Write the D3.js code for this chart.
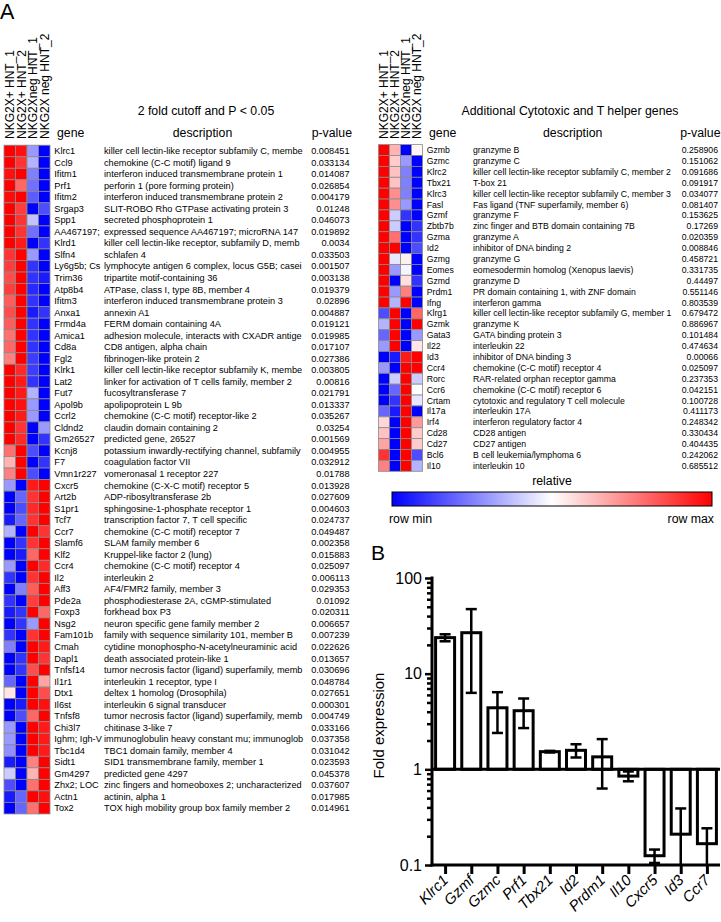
<!DOCTYPE html>
<html><head><meta charset="utf-8">
<script src="https://cdn.jsdelivr.net/npm/d3@7"></script>
<style>
body{margin:0;background:#fff}
svg{display:block}
text{font-family:"Liberation Sans",Arial,sans-serif;fill:#000}
</style>
</head><body>
<svg id="c" width="721" height="922"></svg>
<script>
const sampleLabels = ["NKG2X+ HNT_1","NKG2X+ HNT_2","NKG2Xneg HNT_1","NKG2X neg HNT_2"];

const leftGenes = ["Klrc1","Ccl9","Ifitm1","Prf1","Ifitm2","Srgap3","Spp1","AA467197; Nmes1","Klrd1","Slfn4","Ly6g5b; Csnk2b","Trim36","Atp8b4","Ifitm3","Anxa1","Frmd4a","Amica1","Cd8a","Fgl2","Klrk1","Lat2","Fut7","Apol9b","Ccrl2","Cldnd2","Gm26527","Kcnj8","F7","Vmn1r227","Cxcr5","Art2b","S1pr1","Tcf7","Ccr7","Slamf6","Klf2","Ccr4","Il2","Aff3","Pde2a","Foxp3","Nsg2","Fam101b","Cmah","Dapl1","Tnfsf14","Il1r1","Dtx1","Il6st","Tnfsf8","Chi3l7","Ighm; Igh-VJ558","Tbc1d4","Sidt1","Gm4297","Zhx2; LOC100","Actn1","Tox2"];
const leftDesc = ["killer cell lectin-like receptor subfamily C, member 1","chemokine (C-C motif) ligand 9","interferon induced transmembrane protein 1","perforin 1 (pore forming protein)","interferon induced transmembrane protein 2","SLIT-ROBO Rho GTPase activating protein 3","secreted phosphoprotein 1","expressed sequence AA467197; microRNA 147","killer cell lectin-like receptor, subfamily D, member 1","schlafen 4","lymphocyte antigen 6 complex, locus G5B; casein kinase 2","tripartite motif-containing 36","ATPase, class I, type 8B, member 4","interferon induced transmembrane protein 3","annexin A1","FERM domain containing 4A","adhesion molecule, interacts with CXADR antigen 1","CD8 antigen, alpha chain","fibrinogen-like protein 2","killer cell lectin-like receptor subfamily K, member 1","linker for activation of T cells family, member 2","fucosyltransferase 7","apolipoprotein L 9b","chemokine (C-C motif) receptor-like 2","claudin domain containing 2","predicted gene, 26527","potassium inwardly-rectifying channel, subfamily J, member 8","coagulation factor VII","vomeronasal 1 receptor 227","chemokine (C-X-C motif) receptor 5","ADP-ribosyltransferase 2b","sphingosine-1-phosphate receptor 1","transcription factor 7, T cell specific","chemokine (C-C motif) receptor 7","SLAM family member 6","Kruppel-like factor 2 (lung)","chemokine (C-C motif) receptor 4","interleukin 2","AF4/FMR2 family, member 3","phosphodiesterase 2A, cGMP-stimulated","forkhead box P3","neuron specific gene family member 2","family with sequence similarity 101, member B","cytidine monophospho-N-acetylneuraminic acid hydroxylase","death associated protein-like 1","tumor necrosis factor (ligand) superfamily, member 14","interleukin 1 receptor, type I","deltex 1 homolog (Drosophila)","interleukin 6 signal transducer","tumor necrosis factor (ligand) superfamily, member 8","chitinase 3-like 7","immunoglobulin heavy constant mu; immunoglobulin heavy variable","TBC1 domain family, member 4","SID1 transmembrane family, member 1","predicted gene 4297","zinc fingers and homeoboxes 2; uncharacterized LOC100","actinin, alpha 1","TOX high mobility group box family member 2"];
const leftP = ["0.008451","0.033134","0.014087","0.026854","0.004179","0.01248","0.046073","0.019892","0.0034","0.033503","0.001507","0.003138","0.019379","0.02896","0.004887","0.019121","0.019985","0.017107","0.027386","0.003805","0.00816","0.021791","0.013337","0.035267","0.03254","0.001569","0.004955","0.032912","0.01788","0.013928","0.027609","0.004603","0.024737","0.049487","0.002358","0.015883","0.025097","0.006113","0.029353","0.01092","0.020311","0.006657","0.007239","0.022626","0.013657","0.030696","0.048784","0.027651","0.000301","0.004749","0.033166","0.037358","0.031042","0.023593","0.045378","0.037607","0.017985","0.014961"];
const leftValues = [
[1,0.97,0.3,0],[1,0.9,0.35,0],[0.97,1,0.25,0],[1,0.8,0.22,0],[0.98,1,0.18,0],[1,0.88,0,0.15],[1,0.9,0.38,0],[1,0.9,0.22,0],[1,0.95,0,0.1],[0.9,1,0.3,0],
[0.88,1,0.1,0],[0.85,1,0.1,0.05],[0.88,1,0.08,0],[0.82,1,0.1,0],[0.85,1,0.05,0.1],[0.82,1,0.1,0],[0.78,1,0.1,0],[0.8,1,0.1,0],[0.75,1,0.12,0],[1,0.92,0.12,0],
[1,0.95,0.1,0],[1,0.95,0.35,0],[1,0.97,0.3,0],[1,0.95,0.3,0],[1,0.9,0,0.3],[1,0.92,0,0.1],[0.78,1,0.15,0],[0.65,1,0,0.1],[0.75,1,0.15,0],[0.3,0,0.95,1],
[0,0.2,0.9,1],[0,0.15,0.92,1],[0.05,0.2,0.9,1],[0.35,0,1,0.9],[0,0.1,0.9,1],[0,0.05,0.8,1],[0.3,0,1,0.92],[0.1,0,0.9,1],[0,0.25,0.82,1],[0.1,0,0.88,1],
[0.05,0.1,1,0.8],[0,0.1,0.3,1],[0.1,0,0.9,1],[0.25,0,1,0.95],[0,0.1,1,0.9],[0,0.1,0.85,1],[0.2,0,1,0.68],[0.55,0,1,0.85],[0,0.05,1,0.97],[0,0.15,0.8,1],
[0.3,0,1,0.95],[0.3,0,1,0.95],[0.28,0,1,0.95],[0.05,0,0.75,1],[0.4,0,0.65,1],[0.15,0,0.78,1],[0.05,0.2,1,0.97],[0,0.2,0.78,1]];

const rightGenes = ["Gzmb","Gzmc","Klrc2","Tbx21","Klrc3","Fasl","Gzmf","Zbtb7b","Gzma","Id2","Gzmg","Eomes","Gzmd","Prdm1","Ifng","Klrg1","Gzmk","Gata3","Il22","Id3","Ccr4","Rorc","Ccr6","Crtam","Il17a","Irf4","Cd28","Cd27","Bcl6","Il10"];
const rightDesc = ["granzyme B","granzyme C","killer cell lectin-like receptor subfamily C, member 2","T-box 21","killer cell lectin-like receptor subfamily C, member 3","Fas ligand (TNF superfamily, member 6)","granzyme F","zinc finger and BTB domain containing 7B","granzyme A","inhibitor of DNA binding 2","granzyme G","eomesodermin homolog (Xenopus laevis)","granzyme D","PR domain containing 1, with ZNF domain","interferon gamma","killer cell lectin-like receptor subfamily G, member 1","granzyme K","GATA binding protein 3","interleukin 22","inhibitor of DNA binding 3","chemokine (C-C motif) receptor 4","RAR-related orphan receptor gamma","chemokine (C-C motif) receptor 6","cytotoxic and regulatory T cell molecule","interleukin 17A","interferon regulatory factor 4","CD28 antigen","CD27 antigen","B cell leukemia/lymphoma 6","interleukin 10"];
const rightP = ["0.258906","0.151062","0.091686","0.091917","0.034077","0.081407","0.153625","0.17269","0.020359","0.008846","0.458721","0.331735","0.44497","0.551146","0.803539","0.679472","0.886967","0.101484","0.474634","0.00066","0.025097","0.237353","0.042151","0.100728","0.411173","0.248342","0.330434","0.404435","0.242062","0.685512"];
const rightValues = [
[1,0.65,0,0.52],[1,0.6,0.3,0],[1,0.62,0.25,0],[1,0.62,0.25,0],[1,0.72,0.25,0],[1,0.72,0.3,0],[1,0.4,0.1,0],[1,0.4,0,0.1],[1,0.78,0,0.1],[1,1,0,0.15],
[1,0.45,0.53,0],[1,0.3,0.48,0],[1,0,0.56,0.1],[1,0.3,0.75,0],[1,0.35,1,0],[0.15,1,0,0.8],[0.35,1,0,1],[0.2,1,0,0.3],[0.3,1,0,0.55],[0,0.05,0.95,1],
[0.3,0,1,1],[0,0.4,1,0.4],[0,0.2,1,0.5],[0,0.1,1,0.45],[0.2,0.05,1,0],[0.58,0,1,0.7],[0.62,0,1,0.6],[0.68,0,1,0.6],[0.9,0,1,0.15],[0.75,0,1,0.35]];

const barGenes = ["Klrc1","Gzmf","Gzmc","Prf1","Tbx21","Id2","Prdm1","Il10","Cxcr5","Id3","Ccr7"];
const barMeans = [23.8,26.8,4.4,4.1,1.53,1.58,1.35,0.85,0.125,0.21,0.167];
const barErrors = [2.0,20.5,2.0,1.4,0.03,0.25,0.72,0.1,0.02,0.18,0.075];
const yMajorTicks = [0.1,1,10,100];
const yTickLabels = ["0.1","1","10","100"];

const svg = d3.select("#c");
const color = d3.scaleLinear().domain([0,0.5,1]).range(["#0000ff","#ffffff","#ff0000"]);

// panel letters
svg.append("text").attr("x",0).attr("y",18.5).attr("font-size",21.5).text("A");
svg.append("text").attr("x",371).attr("y",560).attr("font-size",21).text("B");

function fitText(sel, maxW){
  const node = sel.node();
  let s = node.textContent;
  while(s.length > 1 && node.getComputedTextLength() > maxW){
    s = s.slice(0,-1);
    node.textContent = s;
  }
}

function heatmap(cfg){
  const g = svg.append("g");
  const n = cfg.genes.length;
  const x = d3.scaleBand().domain(d3.range(4)).range([cfg.x0, cfg.x0 + 4*cfg.cw]);
  const y = d3.scaleBand().domain(d3.range(n)).range([cfg.y0, cfg.y0 + n*cfg.ch]);
  sampleLabels.forEach((s,i)=>{
    g.append("text")
      .attr("transform",`translate(${x(i)+x.bandwidth()/2+4.4},139) rotate(-90)`)
      .attr("font-size",12).text(s);
  });
  g.append("text").attr("x",cfg.titleX).attr("y",115).attr("text-anchor","middle").attr("font-size",12.3).text(cfg.title);
  g.append("text").attr("x",cfg.geneHX).attr("y",137).attr("font-size",12.3).text("gene");
  g.append("text").attr("x",cfg.descHX).attr("y",137).attr("text-anchor","middle").attr("font-size",12.3).text("description");
  g.append("text").attr("x",cfg.pHX).attr("y",137).attr("text-anchor","end").attr("font-size",12.3).text("p-value");
  cfg.values.forEach((row,r)=>{
    row.forEach((v,c)=>{
      g.append("rect").attr("x",x(c)).attr("y",y(r)).attr("width",x.bandwidth()).attr("height",y.bandwidth())
        .attr("fill",color(v)).attr("stroke","#8a8a8a").attr("stroke-width",0.8);
    });
  });
  const tg = g.append("g").attr("font-size",cfg.fs);
  cfg.genes.forEach((gn,r)=>{
    const yy = y(r)+y.bandwidth()/2;
    const t1 = tg.append("text").attr("x",cfg.geneX).attr("y",yy).attr("dy","0.35em").text(gn);
    fitText(t1, cfg.geneClip - cfg.geneX);
    const t2 = tg.append("text").attr("x",cfg.descX).attr("y",yy).attr("dy","0.35em").text(cfg.desc[r]);
    fitText(t2, cfg.descClip - cfg.descX);
    tg.append("text").attr("x",cfg.pX).attr("y",yy).attr("dy","0.35em").attr("text-anchor","end").text(cfg.p[r]);
  });
}

heatmap({id:"L",genes:leftGenes,desc:leftDesc,p:leftP,values:leftValues,
  x0:4,cw:11.5,y0:145.2,ch:11.53,fs:9.2,geneX:54.3,geneClip:103.5,descX:104,descClip:304,pX:349.5,
  title:"2 fold cutoff and P < 0.05",titleX:206,geneHX:57,descHX:202.5,pHX:352});
heatmap({id:"R",genes:rightGenes,desc:rightDesc,p:rightP,values:rightValues,
  x0:378.5,cw:11,y0:144.6,ch:10.89,fs:8.7,geneX:426.7,geneClip:472,descX:473,descClip:700,pX:718,
  title:"Additional Cytotoxic and T helper genes",titleX:570,geneHX:429,descHX:572.7,pHX:720.5});

// legend
const grad = svg.append("defs").append("linearGradient").attr("id","lg");
grad.append("stop").attr("offset","0%").attr("stop-color","#0000ff");
grad.append("stop").attr("offset","50%").attr("stop-color","#ffffff");
grad.append("stop").attr("offset","100%").attr("stop-color","#ff0000");
svg.append("text").attr("x",552).attr("y",485).attr("text-anchor","middle").attr("font-size",12.3).text("relative");
svg.append("rect").attr("x",392).attr("y",492).attr("width",320).attr("height",14).attr("fill","url(#lg)").attr("stroke","#000").attr("stroke-width",1);
svg.append("text").attr("x",389).attr("y",523).attr("font-size",12.3).text("row min");
svg.append("text").attr("x",714).attr("y",523).attr("text-anchor","end").attr("font-size",12.3).text("row max");

// bar chart
const bx = d3.scalePoint().domain(barGenes).range([432,720]).padding(0.5);
const by = d3.scaleLog().domain([0.1,100]).range([865,578]);
const bc = svg.append("g");
const bw = 19;
barGenes.forEach((gn,i)=>{
  const v = barMeans[i], cx = bx(gn);
  const y1 = by(1), yv = by(v);
  bc.append("rect").attr("x",cx-bw/2).attr("y",Math.min(y1,yv)).attr("width",bw).attr("height",Math.abs(yv-y1))
    .attr("fill","#fff").attr("stroke","#000").attr("stroke-width",3);
});
barGenes.forEach((gn,i)=>{
  const v = barMeans[i], e = barErrors[i], cx = bx(gn);
  const hi = v+e, loRaw = v-e;
  const lo = Math.max(loRaw,0.1);
  bc.append("line").attr("x1",cx).attr("x2",cx).attr("y1",by(hi)).attr("y2",by(lo)).attr("stroke","#000").attr("stroke-width",2.5);
  bc.append("line").attr("x1",cx-5.5).attr("x2",cx+5.5).attr("y1",by(hi)).attr("y2",by(hi)).attr("stroke","#000").attr("stroke-width",2.5);
  if(loRaw>0.1) bc.append("line").attr("x1",cx-5.5).attr("x2",cx+5.5).attr("y1",by(lo)).attr("y2",by(lo)).attr("stroke","#000").attr("stroke-width",2.5);
});
bc.append("line").attr("x1",432).attr("x2",720).attr("y1",by(1)).attr("y2",by(1)).attr("stroke","#000").attr("stroke-width",3);

const minor = [];
[0.1,1,10].forEach(d=>{for(let k=2;k<=9;k++) minor.push(+(d*k).toPrecision(3));});
const yMinor = bc.append("g").attr("transform","translate(432,0)")
  .call(d3.axisLeft(by).tickValues(minor).tickSize(5).tickFormat(""));
yMinor.select(".domain").remove();
yMinor.selectAll("line").attr("stroke-width",2.5);
const yMaj = bc.append("g").attr("transform","translate(432,0)")
  .call(d3.axisLeft(by).tickValues(yMajorTicks).tickSize(7).tickPadding(3).tickFormat((d,i)=>yTickLabels[i]));
yMaj.select(".domain").remove();
yMaj.selectAll("line").attr("stroke-width",2.5);
yMaj.selectAll("text").attr("font-size",16).attr("font-family","Liberation Sans, Arial, sans-serif");
bc.append("line").attr("x1",432).attr("x2",432).attr("y1",576.5).attr("y2",866.5).attr("stroke","#000").attr("stroke-width",3);

const xAx = bc.append("g").attr("transform","translate(0,865)")
  .call(d3.axisBottom(bx).tickSize(9).tickFormat(""));
xAx.select(".domain").remove();
xAx.selectAll("line").attr("stroke-width",3);
bc.append("line").attr("x1",430.5).attr("x2",720).attr("y1",865).attr("y2",865).attr("stroke","#000").attr("stroke-width",3);
barGenes.forEach(gn=>{
  bc.append("text").attr("transform",`translate(${bx(gn)+4},881) rotate(-45)`)
    .attr("text-anchor","end").attr("font-size",15).attr("font-style","italic").text(gn);
});
bc.append("text").attr("transform","translate(384,725.5) rotate(-90)").attr("text-anchor","middle").attr("font-size",15).text("Fold expression");
</script>
</body></html>
